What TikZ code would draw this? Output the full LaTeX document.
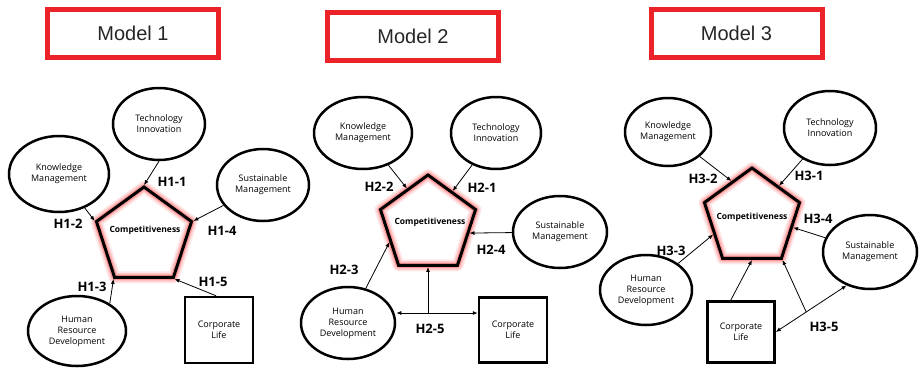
\documentclass[tikz,border=0pt]{standalone}
\usepackage{fontspec}
\setmainfont{Open Sans}
\newfontfamily\titlefont{Liberation Sans}
\usetikzlibrary{shapes.geometric,arrows.meta,calc}
\definecolor{titlered}{RGB}{235,35,40}

\begin{document}
\begin{tikzpicture}[x=1pt, y=-1pt, >={Latex[length=5pt,width=4pt]},
  model/.style={draw=titlered, line width=5pt, minimum width=171pt, minimum height=48pt, font=\titlefont\fontsize{20}{24}\selectfont, text=black!85},
  var/.style 2 args={ellipse, draw, line width=2.5pt, inner sep=0pt, minimum width=#1pt, minimum height=#2pt, align=center, font=\fontsize{9}{11}\selectfont},
  life/.style={draw, line width=2.5pt, minimum width=68pt, minimum height=66pt, align=center, font=\fontsize{9}{11}\selectfont},
  comp/.style={regular polygon, regular polygon sides=5, minimum size=100pt, inner sep=0pt, draw, line width=3pt,
    preaction={draw=red!10, line width=12pt, line join=round},
    preaction={draw=red!22, line width=8.5pt, line join=round},
    preaction={draw=red!40, line width=5.5pt, line join=round}},
  comptext/.style={font=\bfseries\fontsize{8.5}{10}\selectfont},
  hyp/.style={font=\bfseries\fontsize{13}{15}\selectfont},
  link/.style={->, line width=0.8pt}]
  \useasboundingbox (0,0) rectangle (921,368);

  \node[model] (m1title) at (133,33.5) {Model 1};
  \node[var={92}{72}] (m1ti) at (159,124) {Technology\\Innovation};
  \node[var={100}{76}] (m1km) at (59,174) {Knowledge\\Management};
  \node[var={92}{72}] (m1sm) at (263,185) {Sustainable\\Management};
  \node[var={98}{70}] (m1hrd) at (77,331) {Human\\Resource\\Development};
  \node[life] (m1cl) at (219,330) {Corporate\\Life};
  \node[comp] (m1comp) at (144,237) {};
  \node[comptext] (m1ctext) at (145,230) {Competitiveness};
  \draw[link] (m1ti.south) -- (m1comp.corner 1);
  \draw[link] (m1km) -- (m1comp.corner 2);
  \draw[link] (m1hrd.40) -- (m1comp.corner 3);
  \draw[link] (m1cl.95) -- (m1comp.corner 4);
  \draw[link] (m1sm) -- (m1comp.corner 5);
  \node[hyp] (m1h1) at (172,182) {H1-1};
  \node[hyp] (m1h2) at (68,224) {H1-2};
  \node[hyp] (m1h3) at (92,287) {H1-3};
  \node[hyp] (m1h4) at (222,231) {H1-4};
  \node[hyp] (m1h5) at (213,282) {H1-5};

  \node[model] (m2title) at (413,36) {Model 2};
  \node[var={98}{72}] (m2km) at (363,133) {Knowledge\\Management};
  \node[var={90}{72}] (m2ti) at (496,133) {Technology\\Innovation};
  \node[var={94}{72}] (m2sm) at (560,232) {Sustainable\\Management};
  \node[var={94}{72}] (m2hrd) at (348,323) {Human\\Resource\\Development};
  \node[life, minimum height=65pt] (m2cl) at (513,330) {Corporate\\Life};
  \node[comp] (m2comp) at (428,225) {};
  \node[comptext] (m2ctext) at (430,222) {Competitiveness};
  \coordinate (m2j) at (428,313);
  \draw[link] (m2km) -- (m2comp.120);
  \draw[link] (m2ti) -- (m2comp.54);
  \draw[link] (m2sm) -- (m2comp.-11);
  \draw[link] (m2hrd) -- (m2comp.204);
  \draw[link, <->] (m2j -| m2hrd.east) -- (m2j -| m2cl.west);
  \draw[link] (m2j) -- (m2comp.south);
  \node[hyp] (m2h1) at (482,188) {H2-1};
  \node[hyp] (m2h2) at (379,187) {H2-2};
  \node[hyp] (m2h3) at (344,270) {H2-3};
  \node[hyp] (m2h4) at (491,250) {H2-4};
  \node[hyp] (m2h5) at (430,329) {H2-5};

  \node[model] (m3title) at (736.5,33.5) {Model 3};
  \node[var={86}{68}] (m3km) at (668,132) {Knowledge\\Management};
  \node[var={92}{74}] (m3ti) at (830,128) {Technology\\Innovation};
  \node[var={94}{74}] (m3sm) at (870,252) {Sustainable\\Management};
  \node[var={92}{70}] (m3hrd) at (646,290) {Human\\Resource\\Development};
  \node[life, minimum width=67pt, minimum height=61pt] (m3cl) at (741,332) {Corporate\\Life};
  \node[comp] (m3comp) at (752,218) {};
  \node[comptext] (m3ctext) at (752,217) {Competitiveness};
  \draw[link] (m3km) -- (m3comp.119);
  \draw[link] (m3ti) -- (m3comp.50);
  \draw[link] (m3sm) -- (m3comp.-13);
  \draw[link] (m3hrd) -- (m3comp.203);
  \draw[link] (m3cl.108) -- (m3comp.south);
  \draw[link, <->] (m3cl.east) -- (m3sm.235);
  \coordinate (m3j) at ($(m3cl.east)!0.43!(m3sm.235)$);
  \draw[link] (m3j) -- (m3comp.corner 4);
  \node[hyp] (m3h1) at (809,176) {H3-1};
  \node[hyp] (m3h2) at (703,179) {H3-2};
  \node[hyp] (m3h3) at (671,251) {H3-3};
  \node[hyp] (m3h4) at (818,219) {H3-4};
  \node[hyp] (m3h5) at (824,327) {H3-5};
\end{tikzpicture}
\end{document}
